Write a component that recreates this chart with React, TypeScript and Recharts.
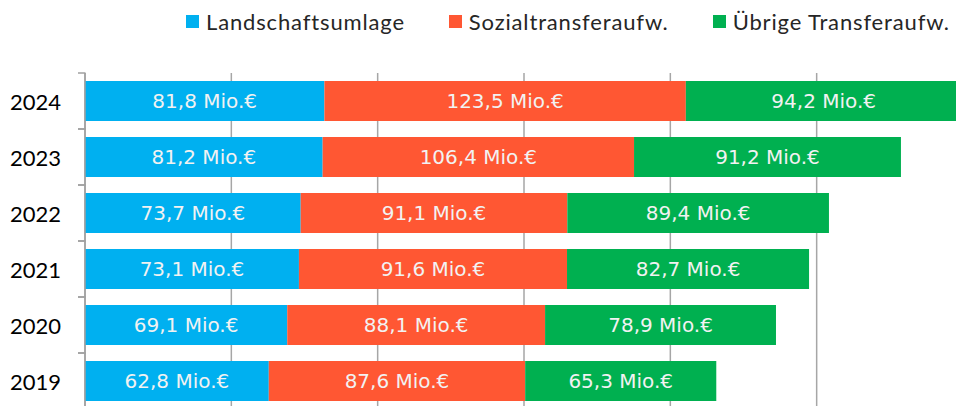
import React from "react";
import { BarChart, Bar, XAxis, YAxis, CartesianGrid, LabelList } from "recharts";

const years = ["2024", "2023", "2022", "2021", "2020", "2019"];
const landschaftsumlage = [81.8, 81.2, 73.7, 73.1, 69.1, 62.8];
const sozialtransfer = [123.5, 106.4, 91.1, 91.6, 88.1, 87.6];
const uebrigeTransfer = [94.2, 91.2, 89.4, 82.7, 78.9, 65.3];
const xTicks = [0, 50, 100, 150, 200, 250, 300];

const series = [
  { key: "landschaft", name: "Landschaftsumlage", color: "#00B0F0" },
  { key: "sozial", name: "Sozialtransferaufw.", color: "#FF5733" },
  { key: "uebrige", name: "Übrige Transferaufw.", color: "#00B050" },
];

const data = years.map((y, i) => ({
  year: y,
  landschaft: landschaftsumlage[i],
  sozial: sozialtransfer[i],
  uebrige: uebrigeTransfer[i],
}));

const fmt = (v: any) => Number(v).toFixed(1).replace(".", ",") + " Mio.€";

const YTick = (props: any) => {
  const { y, payload } = props;
  return (
    <g>
      <line x1={78} x2={85.5} y1={y - 28} y2={y - 28} stroke="#A0A0A0" strokeWidth={1.5} />
      <line x1={78} x2={85.5} y1={y + 28} y2={y + 28} stroke="#A0A0A0" strokeWidth={1.5} />
      <text
        x={61}
        y={y}
        textAnchor="end"
        dominantBaseline="central"
        fill="#000"
        style={{ fontFamily: "Lato, 'Open Sans', sans-serif", fontSize: 22 }}
      >
        {payload.value}
      </text>
    </g>
  );
};

export default function App() {
  return (
    <div style={{ position: "absolute", left: 0, top: 0, width: 956, height: 406, overflow: "hidden", background: "#fff" }}>
      <div
        style={{
          position: "absolute",
          left: 186,
          top: 8,
          display: "flex",
          gap: 44,
          fontFamily: "Lato, 'Open Sans', sans-serif",
          fontSize: 22,
          color: "#262626",
          letterSpacing: 0.85,
          whiteSpace: "nowrap",
          zIndex: 2,
        }}
      >
        {series.map((s) => (
          <div key={s.key} style={{ display: "flex", alignItems: "center" }}>
            <span style={{ display: "inline-block", width: 13, height: 13, background: s.color, marginRight: 7 }} />
            <span>{s.name}</span>
          </div>
        ))}
      </div>
      <BarChart
        width={970}
        height={412}
        data={data}
        layout="vertical"
        margin={{ top: 73, right: 7, bottom: 3, left: 0 }}
        barSize={40}
      >
        <CartesianGrid horizontal={false} vertical={true} stroke="#A6A6A6" strokeWidth={1.5} />
        <XAxis type="number" domain={[0, 300]} ticks={xTicks} hide />
        <YAxis
          type="category"
          dataKey="year"
          width={85}
          axisLine={{ stroke: "#A0A0A0", strokeWidth: 1.5 }}
          tickLine={false}
          tick={<YTick />}
          interval={0}
        />
        {series.map((s) => (
          <Bar key={s.key} dataKey={s.key} name={s.name} stackId="a" fill={s.color} isAnimationActive={false}>
            <LabelList
              dataKey={s.key}
              position="center"
              formatter={fmt}
              fill="#F2F2F2"
              style={{ fontFamily: "'DejaVu Sans', Verdana, sans-serif", fontSize: 20 }}
            />
          </Bar>
        ))}
      </BarChart>
    </div>
  );
}
